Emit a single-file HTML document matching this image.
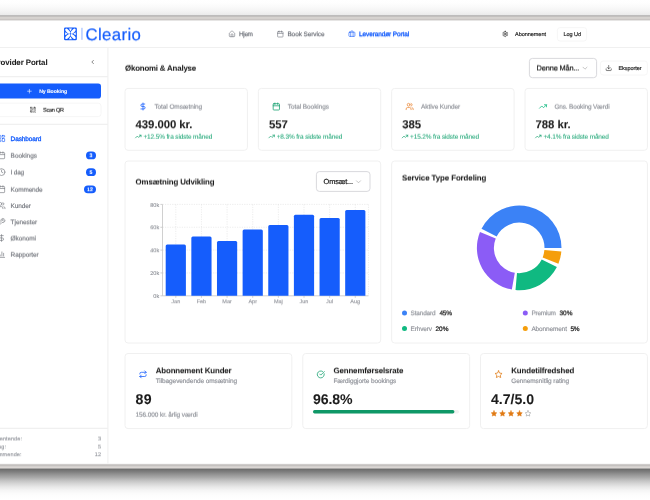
<!DOCTYPE html>
<html lang="da">
<head>
<meta charset="utf-8">
<title>Cleario – Leverandør Portal – Økonomi &amp; Analyse</title>
<style>
html,body{margin:0;padding:0;background:#fff;}
body{width:650px;height:500px;overflow:hidden;position:relative;font-family:"Liberation Sans",sans-serif;}
#app{position:absolute;left:0;top:0;width:650px;height:500px;overflow:hidden;background:#fff;}
#gfx{position:absolute;left:0;top:0;width:650px;height:500px;}
#ui{position:absolute;left:0;top:0;width:650px;height:500px;filter:blur(0.35px);}
.c{position:absolute;left:0;width:650px;}
.t{position:absolute;white-space:nowrap;display:block;text-rendering:geometricPrecision;}
.q1{filter:url(#q1);}
.q2{filter:url(#q2);}
.q3{filter:url(#q3);}
</style>
</head>
<body>
<div id="app">
<!-- browser window chrome / drop shadow -->
<div class="c" style="top:0;height:15px;background:linear-gradient(#ffffff 0%,#fefefe 20%,#fafafa 45%,#f4f4f4 72%,#efefef 88%,#eaeaea 100%)"></div>
<div class="c" style="top:15px;height:1px;background:#bdbcbc"></div>
<div class="c" style="top:16px;height:1px;background:#c3c0be"></div>
<div class="c" style="top:17px;height:1px;background:#d6d3d0"></div>
<div class="c" style="top:18px;height:1px;background:#d5d1ce"></div>
<div class="c" style="top:19px;height:1px;background:#c9c5c3"></div>
<div class="c" style="top:20px;height:1px;background:#e6e5e4"></div>
<div class="c" style="top:463px;height:1px;background:#f8f8f8"></div>
<div class="c" style="top:464px;height:1px;background:#cfcccb"></div>
<div class="c" style="top:465px;height:1px;background:#c4c1bf"></div>
<div class="c" style="top:466px;height:1px;background:#d3cfcd"></div>
<div class="c" style="top:467px;height:1px;background:#dad6d3"></div>
<div class="c" style="top:468px;height:1px;background:#a8a6a5"></div>
<div class="c" style="top:469px;height:31px;background:linear-gradient(#6b6b6b 0.0px,#7e7e7e 2.8px,#939393 5.4px,#aaaaaa 8.6px,#c4c4c4 11.8px,#d8d8d8 15.0px,#e9e9e9 18.2px,#f5f5f5 21.4px,#fbfbfb 24.6px,#fefefe 27.8px,#ffffff 31.0px)"></div>
<div id="ui">
<!-- shapes, icons and charts -->
<svg id="gfx" viewBox="0 0 650 500" width="650" height="500">
<defs>
<filter id="q1" x="-5%" y="-20%" width="110%" height="150%" color-interpolation-filters="sRGB"><feOffset dy="1" result="o"/><feComposite in="SourceGraphic" in2="o" operator="arithmetic" k1="0" k2="0.75" k3="0.25" k4="0"/></filter>
<filter id="q2" x="-5%" y="-20%" width="110%" height="150%" color-interpolation-filters="sRGB"><feOffset dy="1" result="o"/><feComposite in="SourceGraphic" in2="o" operator="arithmetic" k1="0" k2="0.5" k3="0.5" k4="0"/></filter>
<filter id="q3" x="-5%" y="-20%" width="110%" height="150%" color-interpolation-filters="sRGB"><feOffset dy="1" result="o"/><feComposite in="SourceGraphic" in2="o" operator="arithmetic" k1="0" k2="0.25" k3="0.75" k4="0"/></filter>
</defs>
<path d="M0.00 47.50H650.00" stroke="#f0f0f0" stroke-width="1.1" fill="none"/>
<g transform="translate(63.7 27.1) scale(0.5625)"><rect x="0.6" y="0.6" width="22.8" height="22.8" rx="2.2" fill="#155dfc"/><g fill="#fff"><ellipse cx="7.2" cy="7.2" rx="5.6" ry="2.55" transform="rotate(45 7.2 7.2)"/><ellipse cx="16.8" cy="7.2" rx="5.6" ry="2.55" transform="rotate(-45 16.8 7.2)"/><ellipse cx="7.2" cy="16.8" rx="5.6" ry="2.55" transform="rotate(-45 7.2 16.8)"/><ellipse cx="16.8" cy="16.8" rx="5.6" ry="2.55" transform="rotate(45 16.8 16.8)"/><path d="M9.3 2.6h5.4L12 7.2ZM9.3 21.4h5.4L12 16.8ZM2.6 9.3v5.4L7.2 12ZM21.4 9.3v5.4L16.8 12Z"/></g></g>
<rect x="81.30" y="27.80" width="1.30" height="12.00" fill="#a9c3ff"/>
<g transform="translate(228.40 30.40) scale(0.3000)" fill="none" stroke="#70747c" stroke-width="2.0" stroke-linecap="round" stroke-linejoin="round"><path d="M15 21v-8a1 1 0 0 0-1-1h-4a1 1 0 0 0-1 1v8"/><path d="M3 10a2 2 0 0 1 .709-1.528l7-5.999a2 2 0 0 1 2.582 0l7 5.999A2 2 0 0 1 21 10v9a2 2 0 0 1-2 2H5a2 2 0 0 1-2-2z"/></g>
<g transform="translate(276.70 30.40) scale(0.3000)" fill="none" stroke="#70747c" stroke-width="2.0" stroke-linecap="round" stroke-linejoin="round"><path d="M8 2v4"/><path d="M16 2v4"/><rect width="18" height="18" x="3" y="4" rx="2"/><path d="M3 10h18"/></g>
<g transform="translate(348.30 30.40) scale(0.3000)" fill="none" stroke="#155dfc" stroke-width="2.0" stroke-linecap="round" stroke-linejoin="round"><path d="M16 20V4a2 2 0 0 0-2-2h-4a2 2 0 0 0-2 2v16"/><rect width="20" height="14" x="2" y="6" rx="2"/></g>
<g transform="translate(502.00 30.80) scale(0.2667)" fill="none" stroke="#333" stroke-width="2.6" stroke-linecap="round" stroke-linejoin="round"><path d="M12.22 2h-.44a2 2 0 0 0-2 2v.18a2 2 0 0 1-1 1.73l-.43.25a2 2 0 0 1-2 0l-.15-.08a2 2 0 0 0-2.73.73l-.22.38a2 2 0 0 0 .73 2.73l.15.1a2 2 0 0 1 1 1.72v.51a2 2 0 0 1-1 1.74l-.15.09a2 2 0 0 0-.73 2.73l.22.38a2 2 0 0 0 2.73.73l.15-.08a2 2 0 0 1 2 0l.43.25a2 2 0 0 1 1 1.73V20a2 2 0 0 0 2 2h.44a2 2 0 0 0 2-2v-.18a2 2 0 0 1 1-1.73l.43-.25a2 2 0 0 1 2 0l.15.08a2 2 0 0 0 2.73-.73l.22-.39a2 2 0 0 0-.73-2.73l-.15-.08a2 2 0 0 1-1-1.74v-.5a2 2 0 0 1 1-1.74l.15-.09a2 2 0 0 0 .73-2.73l-.22-.38a2 2 0 0 0-2.73-.73l-.15.08a2 2 0 0 1-2 0l-.43-.25a2 2 0 0 1-1-1.73V4a2 2 0 0 0-2-2z"/><circle cx="12" cy="12" r="3"/></g>
<rect x="557.40" y="27.60" width="29.20" height="13.40" rx="2.6" fill="none" stroke="#f4f4f4" stroke-width="0.8"/>
<path d="M107.90 47.50V463.60" stroke="#f0f0f0" stroke-width="1.1" fill="none"/>
<g transform="translate(89.40 58.80) scale(0.2667)" fill="none" stroke="#333" stroke-width="2.2" stroke-linecap="round" stroke-linejoin="round"><path d="m15 18-6-6 6-6"/></g>
<path d="M0.00 76.60H107.90" stroke="#f0f0f0" stroke-width="1.1" fill="none"/>
<rect x="-10.00" y="83.60" width="111.00" height="15.00" rx="2.8" fill="#155dfc"/>
<g transform="translate(26.20 88.00) scale(0.2667)" fill="none" stroke="#fff" stroke-width="2.2" stroke-linecap="round" stroke-linejoin="round"><path d="M5 12h14"/><path d="M12 5v14"/></g>
<rect x="-10.00" y="103.20" width="111.00" height="13.40" rx="2.8" fill="none" stroke="#f4f4f4" stroke-width="0.8"/>
<g transform="translate(29.70 106.50) scale(0.2750)" fill="none" stroke="#333" stroke-width="2.0" stroke-linecap="round" stroke-linejoin="round"><rect width="5" height="5" x="3" y="3" rx="1"/><rect width="5" height="5" x="16" y="3" rx="1"/><rect width="5" height="5" x="3" y="16" rx="1"/><path d="M21 16h-3a2 2 0 0 0-2 2v3"/><path d="M21 21v.01"/><path d="M12 7v3a2 2 0 0 1-2 2H7"/><path d="M3 12h.01"/><path d="M12 3h.01"/><path d="M12 16v.01"/><path d="M16 12h1"/><path d="M21 12v.01"/><path d="M12 21v-1"/></g>
<path d="M0.00 124.40H107.90" stroke="#f0f0f0" stroke-width="1.1" fill="none"/>
<g transform="translate(-2.55 134.40) scale(0.3417)" fill="none" stroke="#155dfc" stroke-width="1.9" stroke-linecap="round" stroke-linejoin="round"><rect width="7" height="9" x="3" y="3" rx="1"/><rect width="7" height="5" x="14" y="3" rx="1"/><rect width="7" height="9" x="14" y="12" rx="1"/><rect width="7" height="5" x="3" y="16" rx="1"/></g>
<g transform="translate(-2.55 151.20) scale(0.3417)" fill="none" stroke="#75787f" stroke-width="1.9" stroke-linecap="round" stroke-linejoin="round"><path d="M8 2v4"/><path d="M16 2v4"/><rect width="18" height="18" x="3" y="4" rx="2"/><path d="M3 10h18"/></g>
<rect x="86.00" y="151.50" width="10.00" height="7.80" rx="3.9" fill="#155dfc"/>
<g transform="translate(-2.55 168.00) scale(0.3417)" fill="none" stroke="#75787f" stroke-width="1.9" stroke-linecap="round" stroke-linejoin="round"><circle cx="12" cy="12" r="10"/><polyline points="12 6 12 12 16 14"/></g>
<rect x="86.00" y="168.30" width="10.00" height="7.80" rx="3.9" fill="#155dfc"/>
<g transform="translate(-2.55 185.10) scale(0.3417)" fill="none" stroke="#75787f" stroke-width="1.9" stroke-linecap="round" stroke-linejoin="round"><path d="M8 2v4"/><path d="M16 2v4"/><rect width="18" height="18" x="3" y="4" rx="2"/><path d="M3 10h18"/></g>
<rect x="84.00" y="185.40" width="12.00" height="7.80" rx="3.9" fill="#155dfc"/>
<g transform="translate(-2.55 201.50) scale(0.3417)" fill="none" stroke="#75787f" stroke-width="1.9" stroke-linecap="round" stroke-linejoin="round"><path d="M16 21v-2a4 4 0 0 0-4-4H6a4 4 0 0 0-4 4v2"/><circle cx="9" cy="7" r="4"/><path d="M22 21v-2a4 4 0 0 0-3-3.87"/><path d="M16 3.13a4 4 0 0 1 0 7.75"/></g>
<g transform="translate(-2.55 217.80) scale(0.3417)" fill="none" stroke="#75787f" stroke-width="1.9" stroke-linecap="round" stroke-linejoin="round"><path d="M14.7 6.3a1 1 0 0 0 0 1.4l1.6 1.6a1 1 0 0 0 1.4 0l3.77-3.77a6 6 0 0 1-7.94 7.94l-6.91 6.91a2.12 2.12 0 0 1-3-3l6.91-6.91a6 6 0 0 1 7.94-7.94l-3.76 3.76z"/></g>
<g transform="translate(-2.55 233.90) scale(0.3417)" fill="none" stroke="#75787f" stroke-width="1.9" stroke-linecap="round" stroke-linejoin="round"><line x1="12" x2="12" y1="2" y2="22"/><path d="M17 5H9.5a3.5 3.5 0 0 0 0 7h5a3.5 3.5 0 0 1 0 7H6"/></g>
<g transform="translate(-2.55 250.20) scale(0.3417)" fill="none" stroke="#75787f" stroke-width="1.9" stroke-linecap="round" stroke-linejoin="round"><path d="M3 3v16a2 2 0 0 0 2 2h16"/><path d="M18 17V9"/><path d="M13 17V5"/><path d="M8 17v-3"/></g>
<path d="M0.00 428.40H107.90" stroke="#f0f0f0" stroke-width="1.1" fill="none"/>
<rect x="529.40" y="58.40" width="67.20" height="19.30" rx="3" fill="none" stroke="#c9c9ce" stroke-width="0.7"/>
<g transform="translate(581.00 64.20) scale(0.3333)" fill="none" stroke="#9a9a9a" stroke-width="1.7" stroke-linecap="round" stroke-linejoin="round"><path d="m6 9 6 6 6-6"/></g>
<rect x="600.40" y="61.00" width="47.00" height="14.00" rx="2.8" fill="none" stroke="#f4f4f4" stroke-width="0.8"/>
<g transform="translate(605.30 64.60) scale(0.2833)" fill="none" stroke="#2a2a2a" stroke-width="2.1" stroke-linecap="round" stroke-linejoin="round"><path d="M21 15v4a2 2 0 0 1-2 2H5a2 2 0 0 1-2-2v-4"/><polyline points="7 10 12 15 17 10"/><line x1="12" x2="12" y1="15" y2="3"/></g>
<rect x="125.00" y="88.40" width="122.40" height="61.90" rx="3.0" fill="#fff" stroke="#f0f0f0" stroke-width="1.0"/>
<g transform="translate(138.80 102.30) scale(0.3500)" fill="none" stroke="#155dfc" stroke-width="2.2" stroke-linecap="round" stroke-linejoin="round"><line x1="12" x2="12" y1="2" y2="22"/><path d="M17 5H9.5a3.5 3.5 0 0 0 0 7h5a3.5 3.5 0 0 1 0 7H6"/></g>
<g transform="translate(135.00 133.20) scale(0.2750)" fill="none" stroke="#14a06e" stroke-width="2.5" stroke-linecap="round" stroke-linejoin="round"><polyline points="22 7 13.5 15.5 8.5 10.5 2 17"/><polyline points="16 7 22 7 22 13"/></g>
<rect x="258.33" y="88.40" width="122.40" height="61.90" rx="3.0" fill="#fff" stroke="#f0f0f0" stroke-width="1.0"/>
<g transform="translate(272.13 102.30) scale(0.3500)" fill="none" stroke="#14a06e" stroke-width="2.2" stroke-linecap="round" stroke-linejoin="round"><path d="M8 2v4"/><path d="M16 2v4"/><rect width="18" height="18" x="3" y="4" rx="2"/><path d="M3 10h18"/></g>
<g transform="translate(268.33 133.20) scale(0.2750)" fill="none" stroke="#14a06e" stroke-width="2.5" stroke-linecap="round" stroke-linejoin="round"><polyline points="22 7 13.5 15.5 8.5 10.5 2 17"/><polyline points="16 7 22 7 22 13"/></g>
<rect x="391.67" y="88.40" width="122.40" height="61.90" rx="3.0" fill="#fff" stroke="#f0f0f0" stroke-width="1.0"/>
<g transform="translate(405.47 102.30) scale(0.3500)" fill="none" stroke="#ea8a3c" stroke-width="2.2" stroke-linecap="round" stroke-linejoin="round"><path d="M16 21v-2a4 4 0 0 0-4-4H6a4 4 0 0 0-4 4v2"/><circle cx="9" cy="7" r="4"/><path d="M22 21v-2a4 4 0 0 0-3-3.87"/><path d="M16 3.13a4 4 0 0 1 0 7.75"/></g>
<g transform="translate(401.67 133.20) scale(0.2750)" fill="none" stroke="#14a06e" stroke-width="2.5" stroke-linecap="round" stroke-linejoin="round"><polyline points="22 7 13.5 15.5 8.5 10.5 2 17"/><polyline points="16 7 22 7 22 13"/></g>
<rect x="525.00" y="88.40" width="122.40" height="61.90" rx="3.0" fill="#fff" stroke="#f0f0f0" stroke-width="1.0"/>
<g transform="translate(538.80 102.30) scale(0.3500)" fill="none" stroke="#10b981" stroke-width="2.2" stroke-linecap="round" stroke-linejoin="round"><polyline points="22 7 13.5 15.5 8.5 10.5 2 17"/><polyline points="16 7 22 7 22 13"/></g>
<g transform="translate(535.00 133.20) scale(0.2750)" fill="none" stroke="#14a06e" stroke-width="2.5" stroke-linecap="round" stroke-linejoin="round"><polyline points="22 7 13.5 15.5 8.5 10.5 2 17"/><polyline points="16 7 22 7 22 13"/></g>
<rect x="125.00" y="161.00" width="255.73" height="182.00" rx="3.0" fill="#fff" stroke="#f0f0f0" stroke-width="1.0"/>
<rect x="316.40" y="171.60" width="53.60" height="19.80" rx="3" fill="none" stroke="#c9c9ce" stroke-width="0.7"/>
<g transform="translate(354.50 177.80) scale(0.3333)" fill="none" stroke="#9a9a9a" stroke-width="1.7" stroke-linecap="round" stroke-linejoin="round"><path d="m6 9 6 6 6-6"/></g>
<g stroke="#d4d4d4" stroke-width="0.42" stroke-dasharray="1.2 1.2" fill="none">
<path d="M162.6 272.95H368.5"/>
<path d="M162.6 250.10H368.5"/>
<path d="M162.6 227.25H368.5"/>
<path d="M162.6 204.40H368.5"/>
<path d="M175.80 204.40V295.80"/>
<path d="M201.44 204.40V295.80"/>
<path d="M227.08 204.40V295.80"/>
<path d="M252.72 204.40V295.80"/>
<path d="M278.36 204.40V295.80"/>
<path d="M304.00 204.40V295.80"/>
<path d="M329.64 204.40V295.80"/>
<path d="M355.28 204.40V295.80"/>
<path d="M368.5 204.40V295.80"/>
</g>
<g stroke="#c4c4c4" stroke-width="0.8" fill="none"><path d="M162.5 204.40V295.80H368.5"/>
<path d="M160.4 295.80H162.5"/>
<path d="M160.4 272.95H162.5"/>
<path d="M160.4 250.10H162.5"/>
<path d="M160.4 227.25H162.5"/>
<path d="M160.4 204.40H162.5"/>
<path d="M175.80 295.80v2"/>
<path d="M201.44 295.80v2"/>
<path d="M227.08 295.80v2"/>
<path d="M252.72 295.80v2"/>
<path d="M278.36 295.80v2"/>
<path d="M304.00 295.80v2"/>
<path d="M329.64 295.80v2"/>
<path d="M355.28 295.80v2"/>
</g>
<g fill="#155dfc">
<path d="M165.70 295.80V245.89a1.5 1.5 0 0 1 1.5 -1.5H184.40a1.5 1.5 0 0 1 1.5 1.5V295.80Z"/>
<path d="M191.34 295.80V237.89a1.5 1.5 0 0 1 1.5 -1.5H210.04a1.5 1.5 0 0 1 1.5 1.5V295.80Z"/>
<path d="M216.98 295.80V242.46a1.5 1.5 0 0 1 1.5 -1.5H235.68a1.5 1.5 0 0 1 1.5 1.5V295.80Z"/>
<path d="M242.62 295.80V231.04a1.5 1.5 0 0 1 1.5 -1.5H261.32a1.5 1.5 0 0 1 1.5 1.5V295.80Z"/>
<path d="M268.26 295.80V226.47a1.5 1.5 0 0 1 1.5 -1.5H286.96a1.5 1.5 0 0 1 1.5 1.5V295.80Z"/>
<path d="M293.90 295.80V216.18a1.5 1.5 0 0 1 1.5 -1.5H312.60a1.5 1.5 0 0 1 1.5 1.5V295.80Z"/>
<path d="M319.54 295.80V219.61a1.5 1.5 0 0 1 1.5 -1.5H338.24a1.5 1.5 0 0 1 1.5 1.5V295.80Z"/>
<path d="M345.18 295.80V211.61a1.5 1.5 0 0 1 1.5 -1.5H363.88a1.5 1.5 0 0 1 1.5 1.5V295.80Z"/>
</g>
<rect x="391.67" y="161.00" width="255.73" height="182.00" rx="3.0" fill="#fff" stroke="#f0f0f0" stroke-width="1.0"/>
<path fill="#3b82f6" d="M561.50 247.90A42.3 42.3 0 0 0 481.51 228.70L496.66 236.41A25.3 25.3 0 0 1 544.50 247.90Z"/>
<path fill="#8b5cf6" d="M479.98 232.05A42.3 42.3 0 0 0 511.85 289.56L514.81 272.82A25.3 25.3 0 0 1 495.74 238.42Z"/>
<path fill="#10b981" d="M515.51 290.04A42.3 42.3 0 0 0 556.89 267.10L541.74 259.39A25.3 25.3 0 0 1 516.99 273.10Z"/>
<path fill="#f59e0b" d="M558.42 263.75A42.3 42.3 0 0 0 561.34 251.59L544.40 250.11A25.3 25.3 0 0 1 542.66 257.38Z"/>
<circle cx="404.50" cy="313.00" r="2.5" fill="#3b82f6"/>
<circle cx="404.50" cy="328.60" r="2.5" fill="#10b981"/>
<circle cx="525.30" cy="313.00" r="2.5" fill="#8b5cf6"/>
<circle cx="525.30" cy="328.60" r="2.5" fill="#f59e0b"/>
<rect x="125.00" y="353.50" width="166.85" height="75.10" rx="3.0" fill="#fff" stroke="#f0f0f0" stroke-width="1.0"/>
<g transform="translate(138.80 370.20) scale(0.3500)" fill="none" stroke="#155dfc" stroke-width="2.2" stroke-linecap="round" stroke-linejoin="round"><path d="m17 2 4 4-4 4"/><path d="M3 11v-1a4 4 0 0 1 4-4h14"/><path d="m7 22-4-4 4-4"/><path d="M21 13v1a4 4 0 0 1-4 4H3"/></g>
<rect x="302.78" y="353.50" width="166.85" height="75.10" rx="3.0" fill="#fff" stroke="#f0f0f0" stroke-width="1.0"/>
<g transform="translate(316.58 370.20) scale(0.3500)" fill="none" stroke="#14a06e" stroke-width="2.2" stroke-linecap="round" stroke-linejoin="round"><path d="M21.801 10A10 10 0 1 1 17 3.335"/><path d="m9 11 3 3L22 4"/></g>
<rect x="480.55" y="353.50" width="166.85" height="75.10" rx="3.0" fill="#fff" stroke="#f0f0f0" stroke-width="1.0"/>
<g transform="translate(494.35 370.20) scale(0.3500)" fill="none" stroke="#e07a14" stroke-width="2.2" stroke-linecap="round" stroke-linejoin="round"><polygon points="12 2 15.09 8.26 22 9.27 17 14.14 18.18 21.02 12 17.77 5.82 21.02 7 14.14 2 9.27 8.91 8.26 12 2"/></g>
<rect x="313.00" y="410.10" width="146.00" height="3.30" rx="1.65" fill="#f1f1f1"/>
<rect x="313.00" y="410.10" width="141.40" height="3.30" rx="1.65" fill="#0f9867"/>
<g transform="translate(490.65 410.25) scale(0.2792)" fill="#e07a14" stroke="#e07a14" stroke-width="1.8" stroke-linecap="round" stroke-linejoin="round"><polygon points="12 2 15.09 8.26 22 9.27 17 14.14 18.18 21.02 12 17.77 5.82 21.02 7 14.14 2 9.27 8.91 8.26 12 2"/></g>
<g transform="translate(499.15 410.25) scale(0.2792)" fill="#e07a14" stroke="#e07a14" stroke-width="1.8" stroke-linecap="round" stroke-linejoin="round"><polygon points="12 2 15.09 8.26 22 9.27 17 14.14 18.18 21.02 12 17.77 5.82 21.02 7 14.14 2 9.27 8.91 8.26 12 2"/></g>
<g transform="translate(507.65 410.25) scale(0.2792)" fill="#e07a14" stroke="#e07a14" stroke-width="1.8" stroke-linecap="round" stroke-linejoin="round"><polygon points="12 2 15.09 8.26 22 9.27 17 14.14 18.18 21.02 12 17.77 5.82 21.02 7 14.14 2 9.27 8.91 8.26 12 2"/></g>
<g transform="translate(516.15 410.25) scale(0.2792)" fill="#e07a14" stroke="#e07a14" stroke-width="1.8" stroke-linecap="round" stroke-linejoin="round"><polygon points="12 2 15.09 8.26 22 9.27 17 14.14 18.18 21.02 12 17.77 5.82 21.02 7 14.14 2 9.27 8.91 8.26 12 2"/></g>
<g transform="translate(524.65 410.25) scale(0.2792)" fill="none" stroke="#8a8a8a" stroke-width="1.8" stroke-linecap="round" stroke-linejoin="round"><polygon points="12 2 15.09 8.26 22 9.27 17 14.14 18.18 21.02 12 17.77 5.82 21.02 7 14.14 2 9.27 8.91 8.26 12 2"/></g>
</svg>
<!-- text -->
<span class="t q1" style="left:85.50px;top:24px;font-size:16.80px;line-height:22px;letter-spacing:0.363px;color:#155dfc;-webkit-text-stroke:0.2px #155dfc;">Cleario</span>
<span class="t q1" style="left:239.00px;top:30px;font-size:6.47px;line-height:9px;letter-spacing:-0.366px;color:#686c74;-webkit-text-stroke:0.16px #686c74;">Hjem</span>
<span class="t q1" style="left:287.40px;top:30px;font-size:6.47px;line-height:9px;letter-spacing:-0.084px;color:#686c74;-webkit-text-stroke:0.16px #686c74;">Book Service</span>
<span class="t q1" style="left:359.00px;top:30px;font-size:6.47px;line-height:9px;letter-spacing:-0.099px;color:#155dfc;-webkit-text-stroke:0.32px #155dfc;">Leverandør Portal</span>
<span class="t" style="left:515.00px;top:31px;font-size:5.54px;line-height:8px;letter-spacing:-0.046px;color:#222;-webkit-text-stroke:0.16px #222;">Abonnement</span>
<span class="t" style="left:563.40px;top:31px;font-size:5.54px;line-height:8px;letter-spacing:-0.053px;color:#222;-webkit-text-stroke:0.16px #222;">Log Ud</span>
<span class="t" style="left:-7.63px;top:57px;font-size:7.86px;line-height:11px;letter-spacing:-0.080px;font-weight:700;color:#1c1c1c;-webkit-text-stroke:0.05px #1c1c1c;">Provider Portal</span>
<span class="t" style="left:39.20px;top:88px;font-size:5.24px;line-height:8px;letter-spacing:-0.124px;font-weight:700;color:#fff;-webkit-text-stroke:0.05px #fff;">Ny Booking</span>
<span class="t q3" style="left:43.00px;top:106px;font-size:5.54px;line-height:8px;letter-spacing:-0.246px;color:#222;-webkit-text-stroke:0.16px #222;">Scan QR</span>
<span class="t" style="left:10.60px;top:135px;font-size:6.47px;line-height:9px;letter-spacing:-0.107px;color:#155dfc;-webkit-text-stroke:0.32px #155dfc;">Dashboard</span>
<span class="t q3" style="left:10.60px;top:151px;font-size:6.47px;line-height:9px;letter-spacing:-0.031px;color:#75787f;-webkit-text-stroke:0.16px #75787f;">Bookings</span>
<span class="t q1" style="left:89.54px;top:152px;font-size:5.24px;line-height:8px;letter-spacing:0.000px;font-weight:700;color:#fff;-webkit-text-stroke:0.05px #fff;">3</span>
<span class="t q2" style="left:10.60px;top:168px;font-size:6.47px;line-height:9px;letter-spacing:-0.198px;color:#75787f;-webkit-text-stroke:0.16px #75787f;">I dag</span>
<span class="t" style="left:89.54px;top:169px;font-size:5.24px;line-height:8px;letter-spacing:0.000px;font-weight:700;color:#fff;-webkit-text-stroke:0.05px #fff;">5</span>
<span class="t q3" style="left:10.60px;top:185px;font-size:6.47px;line-height:9px;letter-spacing:-0.155px;color:#75787f;-webkit-text-stroke:0.16px #75787f;">Kommende</span>
<span class="t q1" style="left:87.09px;top:186px;font-size:5.24px;line-height:8px;letter-spacing:0.000px;font-weight:700;color:#fff;-webkit-text-stroke:0.05px #fff;">12</span>
<span class="t" style="left:10.60px;top:202px;font-size:6.47px;line-height:9px;letter-spacing:-0.093px;color:#75787f;-webkit-text-stroke:0.16px #75787f;">Kunder</span>
<span class="t q1" style="left:10.60px;top:218px;font-size:6.47px;line-height:9px;letter-spacing:-0.046px;color:#75787f;-webkit-text-stroke:0.16px #75787f;">Tjenester</span>
<span class="t q2" style="left:10.60px;top:234px;font-size:6.47px;line-height:9px;letter-spacing:-0.082px;color:#75787f;-webkit-text-stroke:0.16px #75787f;">Økonomi</span>
<span class="t q3" style="left:10.60px;top:250px;font-size:6.47px;line-height:9px;letter-spacing:-0.096px;color:#75787f;-webkit-text-stroke:0.16px #75787f;">Rapporter</span>
<span class="t q2" style="left:-8.57px;top:435px;font-size:5.54px;line-height:8px;letter-spacing:0.100px;color:#8f9299;-webkit-text-stroke:0.1px #8f9299;">Afventende:</span>
<span class="t q2" style="left:97.92px;top:435px;font-size:5.54px;line-height:8px;letter-spacing:0.000px;color:#8f9299;-webkit-text-stroke:0.1px #8f9299;">3</span>
<span class="t q2" style="left:-8.36px;top:443px;font-size:5.54px;line-height:8px;letter-spacing:0.100px;color:#8f9299;-webkit-text-stroke:0.1px #8f9299;">I dag:</span>
<span class="t q2" style="left:97.92px;top:443px;font-size:5.54px;line-height:8px;letter-spacing:0.000px;color:#8f9299;-webkit-text-stroke:0.1px #8f9299;">5</span>
<span class="t q1" style="left:-9.07px;top:451px;font-size:5.54px;line-height:8px;letter-spacing:0.100px;color:#8f9299;-webkit-text-stroke:0.1px #8f9299;">Kommende:</span>
<span class="t q1" style="left:94.84px;top:451px;font-size:5.54px;line-height:8px;letter-spacing:0.000px;color:#8f9299;-webkit-text-stroke:0.1px #8f9299;">12</span>
<span class="t q3" style="left:125.00px;top:62px;font-size:7.86px;line-height:11px;letter-spacing:-0.173px;font-weight:700;color:#1c1c1c;-webkit-text-stroke:0.05px #1c1c1c;">Økonomi &amp; Analyse</span>
<span class="t q2" style="left:536.60px;top:63px;font-size:7.39px;line-height:10px;letter-spacing:-0.142px;color:#1c1c1c;-webkit-text-stroke:0.22px #1c1c1c;">Denne Mån...</span>
<span class="t" style="left:618.40px;top:65px;font-size:5.54px;line-height:8px;letter-spacing:-0.064px;color:#222;-webkit-text-stroke:0.16px #222;">Eksporter</span>
<span class="t q3" style="left:154.40px;top:102px;font-size:6.47px;line-height:9px;letter-spacing:-0.079px;color:#8f9299;-webkit-text-stroke:0.16px #8f9299;">Total Omsætning</span>
<span class="t q1" style="left:135.60px;top:118px;font-size:11.39px;line-height:15px;letter-spacing:-0.064px;font-weight:700;color:#1c1c1c;-webkit-text-stroke:0.05px #1c1c1c;">439.000 kr.</span>
<span class="t q3" style="left:143.40px;top:132px;font-size:6.47px;line-height:9px;letter-spacing:-0.125px;color:#1fa676;-webkit-text-stroke:0.06px #1fa676;">+12.5% fra sidste måned</span>
<span class="t q3" style="left:287.73px;top:102px;font-size:6.47px;line-height:9px;letter-spacing:-0.062px;color:#8f9299;-webkit-text-stroke:0.16px #8f9299;">Total Bookings</span>
<span class="t q1" style="left:268.93px;top:118px;font-size:11.39px;line-height:15px;letter-spacing:-0.064px;font-weight:700;color:#1c1c1c;-webkit-text-stroke:0.05px #1c1c1c;">557</span>
<span class="t q3" style="left:276.73px;top:132px;font-size:6.47px;line-height:9px;letter-spacing:-0.125px;color:#1fa676;-webkit-text-stroke:0.06px #1fa676;">+8.3% fra sidste måned</span>
<span class="t q3" style="left:421.07px;top:102px;font-size:6.47px;line-height:9px;letter-spacing:-0.088px;color:#8f9299;-webkit-text-stroke:0.16px #8f9299;">Aktive Kunder</span>
<span class="t q1" style="left:402.27px;top:118px;font-size:11.39px;line-height:15px;letter-spacing:-0.064px;font-weight:700;color:#1c1c1c;-webkit-text-stroke:0.05px #1c1c1c;">385</span>
<span class="t q3" style="left:410.07px;top:132px;font-size:6.47px;line-height:9px;letter-spacing:-0.125px;color:#1fa676;-webkit-text-stroke:0.06px #1fa676;">+15.2% fra sidste måned</span>
<span class="t q3" style="left:554.40px;top:102px;font-size:6.47px;line-height:9px;letter-spacing:-0.159px;color:#8f9299;-webkit-text-stroke:0.16px #8f9299;">Gns. Booking Værdi</span>
<span class="t q1" style="left:535.60px;top:118px;font-size:11.39px;line-height:15px;letter-spacing:-0.064px;font-weight:700;color:#1c1c1c;-webkit-text-stroke:0.05px #1c1c1c;">788 kr.</span>
<span class="t q3" style="left:543.40px;top:132px;font-size:6.47px;line-height:9px;letter-spacing:-0.125px;color:#1fa676;-webkit-text-stroke:0.06px #1fa676;">+4.1% fra sidste måned</span>
<span class="t q2" style="left:135.60px;top:176px;font-size:7.86px;line-height:11px;letter-spacing:-0.124px;font-weight:700;color:#1c1c1c;-webkit-text-stroke:0.05px #1c1c1c;">Omsætning Udvikling</span>
<span class="t" style="left:323.60px;top:177px;font-size:7.39px;line-height:10px;letter-spacing:-0.140px;color:#1c1c1c;-webkit-text-stroke:0.22px #1c1c1c;">Omsæt...</span>
<span class="t" style="left:153.35px;top:293px;font-size:5.54px;line-height:8px;letter-spacing:0.000px;color:#8f9299;-webkit-text-stroke:0.1px #8f9299;">0k</span>
<span class="t" style="left:150.27px;top:270px;font-size:5.54px;line-height:8px;letter-spacing:0.000px;color:#8f9299;-webkit-text-stroke:0.1px #8f9299;">20k</span>
<span class="t q1" style="left:150.27px;top:247px;font-size:5.54px;line-height:8px;letter-spacing:0.000px;color:#8f9299;-webkit-text-stroke:0.1px #8f9299;">40k</span>
<span class="t q1" style="left:150.27px;top:224px;font-size:5.54px;line-height:8px;letter-spacing:0.000px;color:#8f9299;-webkit-text-stroke:0.1px #8f9299;">60k</span>
<span class="t" style="left:150.27px;top:202px;font-size:5.54px;line-height:8px;letter-spacing:0.000px;color:#8f9299;-webkit-text-stroke:0.1px #8f9299;">80k</span>
<span class="t q1" style="left:171.33px;top:298px;font-size:5.54px;line-height:8px;letter-spacing:0.000px;color:#8f9299;-webkit-text-stroke:0.1px #8f9299;">Jan</span>
<span class="t q1" style="left:196.67px;top:298px;font-size:5.54px;line-height:8px;letter-spacing:0.000px;color:#8f9299;-webkit-text-stroke:0.1px #8f9299;">Feb</span>
<span class="t q1" style="left:222.31px;top:298px;font-size:5.54px;line-height:8px;letter-spacing:0.000px;color:#8f9299;-webkit-text-stroke:0.1px #8f9299;">Mar</span>
<span class="t q1" style="left:248.41px;top:298px;font-size:5.54px;line-height:8px;letter-spacing:0.000px;color:#8f9299;-webkit-text-stroke:0.1px #8f9299;">Apr</span>
<span class="t q1" style="left:273.90px;top:298px;font-size:5.54px;line-height:8px;letter-spacing:0.000px;color:#8f9299;-webkit-text-stroke:0.1px #8f9299;">Maj</span>
<span class="t q1" style="left:299.53px;top:298px;font-size:5.54px;line-height:8px;letter-spacing:0.000px;color:#8f9299;-webkit-text-stroke:0.1px #8f9299;">Jun</span>
<span class="t q1" style="left:326.10px;top:298px;font-size:5.54px;line-height:8px;letter-spacing:0.000px;color:#8f9299;-webkit-text-stroke:0.1px #8f9299;">Jul</span>
<span class="t q1" style="left:350.35px;top:298px;font-size:5.54px;line-height:8px;letter-spacing:0.000px;color:#8f9299;-webkit-text-stroke:0.1px #8f9299;">Aug</span>
<span class="t q2" style="left:402.00px;top:172px;font-size:7.86px;line-height:11px;letter-spacing:-0.072px;font-weight:700;color:#1c1c1c;-webkit-text-stroke:0.05px #1c1c1c;">Service Type Fordeling</span>
<span class="t q1" style="left:410.60px;top:309px;font-size:6.47px;line-height:9px;letter-spacing:-0.180px;color:#8f9299;-webkit-text-stroke:0.16px #8f9299;">Standard</span>
<span class="t q1" style="left:439.40px;top:309px;font-size:6.47px;line-height:9px;letter-spacing:-0.175px;color:#1c1c1c;-webkit-text-stroke:0.24px #1c1c1c;">45%</span>
<span class="t" style="left:410.60px;top:325px;font-size:6.47px;line-height:9px;letter-spacing:-0.149px;color:#8f9299;-webkit-text-stroke:0.16px #8f9299;">Erhverv</span>
<span class="t" style="left:435.60px;top:325px;font-size:6.47px;line-height:9px;letter-spacing:-0.075px;color:#1c1c1c;-webkit-text-stroke:0.24px #1c1c1c;">20%</span>
<span class="t q1" style="left:531.40px;top:309px;font-size:6.47px;line-height:9px;letter-spacing:-0.214px;color:#8f9299;-webkit-text-stroke:0.16px #8f9299;">Premium</span>
<span class="t q1" style="left:559.60px;top:309px;font-size:6.47px;line-height:9px;letter-spacing:-0.075px;color:#1c1c1c;-webkit-text-stroke:0.24px #1c1c1c;">30%</span>
<span class="t" style="left:531.40px;top:325px;font-size:6.47px;line-height:9px;letter-spacing:-0.121px;color:#8f9299;-webkit-text-stroke:0.16px #8f9299;">Abonnement</span>
<span class="t" style="left:570.60px;top:325px;font-size:6.47px;line-height:9px;letter-spacing:-0.351px;color:#1c1c1c;-webkit-text-stroke:0.24px #1c1c1c;">5%</span>
<span class="t q1" style="left:155.70px;top:365px;font-size:7.86px;line-height:11px;letter-spacing:-0.108px;font-weight:700;color:#1c1c1c;-webkit-text-stroke:0.05px #1c1c1c;">Abonnement Kunder</span>
<span class="t" style="left:155.70px;top:377px;font-size:6.47px;line-height:9px;letter-spacing:-0.075px;color:#8f9299;-webkit-text-stroke:0.16px #8f9299;">Tilbagevendende omsætning</span>
<span class="t" style="left:135.60px;top:390px;font-size:14.11px;line-height:19px;letter-spacing:0.305px;font-weight:700;color:#1c1c1c;-webkit-text-stroke:0.05px #1c1c1c;">89</span>
<span class="t q1" style="left:333.48px;top:365px;font-size:7.86px;line-height:11px;letter-spacing:-0.108px;font-weight:700;color:#1c1c1c;-webkit-text-stroke:0.05px #1c1c1c;">Gennemførselsrate</span>
<span class="t" style="left:333.48px;top:377px;font-size:6.47px;line-height:9px;letter-spacing:-0.075px;color:#8f9299;-webkit-text-stroke:0.16px #8f9299;">Færdiggjorte bookings</span>
<span class="t" style="left:313.00px;top:390px;font-size:14.11px;line-height:19px;letter-spacing:-0.127px;font-weight:700;color:#1c1c1c;-webkit-text-stroke:0.05px #1c1c1c;">96.8%</span>
<span class="t q1" style="left:511.25px;top:365px;font-size:7.86px;line-height:11px;letter-spacing:-0.108px;font-weight:700;color:#1c1c1c;-webkit-text-stroke:0.05px #1c1c1c;">Kundetilfredshed</span>
<span class="t" style="left:511.25px;top:377px;font-size:6.47px;line-height:9px;letter-spacing:-0.075px;color:#8f9299;-webkit-text-stroke:0.16px #8f9299;">Gennemsnitlig rating</span>
<span class="t" style="left:491.00px;top:390px;font-size:14.11px;line-height:19px;letter-spacing:-0.025px;font-weight:700;color:#1c1c1c;-webkit-text-stroke:0.05px #1c1c1c;">4.7/5.0</span>
<span class="t q3" style="left:135.60px;top:410px;font-size:6.47px;line-height:9px;letter-spacing:-0.092px;color:#8f9299;-webkit-text-stroke:0.16px #8f9299;">156.000 kr. årlig værdi</span>
</div>
</div>
</body>
</html>
